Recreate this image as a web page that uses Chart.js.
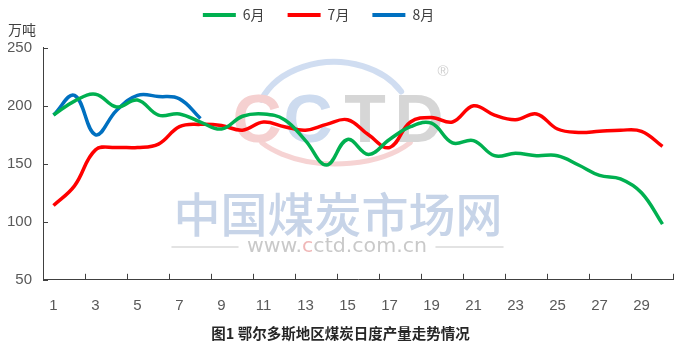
<!DOCTYPE html>
<html lang="zh">
<head>
    <meta charset="UTF-8">
    <title>鄂尔多斯地区煤炭日度产量走势情况</title>
    <script src="https://cdn.jsdelivr.net/npm/chart.js"></script>
    <style>
        html, body { margin: 0; padding: 0; background: #fff; }
        #chart-box { width: 681px; height: 351px; position: relative; }
    </style>
</head>
<body>
    <div id="chart-box">
        <canvas id="myChart"></canvas>
    </div>

    <script>
        // days of the month
        var days = ['1', '2', '3', '4', '5', '6', '7', '8', '9', '10',
                    '11', '12', '13', '14', '15', '16', '17', '18', '19', '20',
                    '21', '22', '23', '24', '25', '26', '27', '28', '29', '30'];

        // 万吨 per day
        var june = [192, 204, 210, 199, 205, 192, 193, 186, 180, 191,
                    193, 188, 170, 149, 171, 158, 171, 182, 185, 168,
                    170, 157, 159, 157, 157, 149, 140, 137, 125, 98];
        var july = [114, 131, 162, 164, 164, 167, 182, 184, 183, 179,
                    186, 182, 179, 184, 188, 175, 164, 186, 190, 186,
                    200, 192, 188, 193, 180, 177, 178, 179, 178, 165];
        var august = [192, 209, 175, 196, 209, 208, 206, 189];

        var yTicks = [50, 100, 150, 200, 250];

        var tickFont = { family: '"Liberation Sans", Arial, sans-serif', size: 15 };
        var cjkFont = '"Noto Sans CJK SC", "Liberation Sans", sans-serif';

        // faint CCTD watermark behind the lines
        var watermark = {
            id: 'watermark',
            beforeDatasetsDraw: function (chart) {
                var ctx = chart.ctx;
                ctx.save();

                // arcs of the logo
                ctx.lineCap = 'round';
                ctx.strokeStyle = 'rgba(196, 213, 238, 0.8)';
                ctx.lineWidth = 6;
                ctx.beginPath();
                ctx.ellipse(334, 122, 78, 60, 0, Math.PI * 1.12, Math.PI * 1.83);
                ctx.stroke();
                ctx.strokeStyle = 'rgba(244, 200, 200, 0.8)';
                ctx.lineWidth = 5;
                ctx.beginPath();
                ctx.ellipse(336, 112, 92, 52, 0, Math.PI * 0.2, Math.PI * 0.8);
                ctx.stroke();

                // letters
                ctx.font = 'bold 68px "Liberation Sans", Arial, sans-serif';
                ctx.textAlign = 'center';
                ctx.textBaseline = 'alphabetic';
                var letters = [['C', 257, '#f5d0d0'], ['C', 308, '#cddbef'],
                               ['T', 365, '#d6d6d6'], ['D', 419, '#d6d6d6']];
                letters.forEach(function (l) {
                    ctx.fillStyle = l[2];
                    ctx.fillText(l[0], l[1], 142);
                });
                ctx.font = '15px "Liberation Sans", Arial, sans-serif';
                ctx.fillStyle = '#cfcfcf';
                ctx.fillText('®', 443, 76);

                // site name
                ctx.font = '500 47px ' + cjkFont;
                ctx.fillStyle = '#c7d4e8';
                ctx.textBaseline = 'middle';
                ctx.fillText('中国煤炭市场网', 338, 214);

                // url with rules
                ctx.strokeStyle = '#dadada';
                ctx.lineWidth = 1.5;
                ctx.beginPath();
                ctx.moveTo(172, 247); ctx.lineTo(238, 247);
                ctx.moveTo(436, 247); ctx.lineTo(503, 247);
                ctx.stroke();

                ctx.font = '19px "DejaVu Sans", sans-serif';
                ctx.textAlign = 'left';
                var parts = [['www.', '#c9c9c9'], ['c', '#f0b8b8'], ['ctd.com.cn', '#c9c9c9']];
                var total = 0;
                parts.forEach(function (p) { total += ctx.measureText(p[0]).width; });
                var sx = 180 / total;
                ctx.translate(247, 247);
                ctx.scale(sx, 1);
                var cx = 0;
                parts.forEach(function (p) {
                    ctx.fillStyle = p[1];
                    ctx.fillText(p[0], cx, 0);
                    cx += ctx.measureText(p[0]).width;
                });
                ctx.restore();
            }
        };

        // the source legend sits a little left of centre
        var legendShift = {
            id: 'legendShift',
            afterLayout: function (chart) {
                chart.legend.left -= 22;
                chart.legend.right -= 22;
            }
        };

        // short tick marks pointing into the plot, as in the source chart
        var innerTicks = {
            id: 'innerTicks',
            afterDatasetsDraw: function (chart) {
                var ctx = chart.ctx;
                var xs = chart.scales.x;
                var ys = chart.scales.y;
                var area = chart.chartArea;
                var half = (xs.getPixelForValue(1) - xs.getPixelForValue(0)) / 2;
                ctx.save();
                ctx.strokeStyle = '#404040';
                ctx.lineWidth = 1;
                ctx.beginPath();
                for (var k = 2; k <= days.length; k += 2) {
                    var px = Math.round(xs.getPixelForValue(k) - half) + 0.5;
                    ctx.moveTo(px, area.bottom);
                    ctx.lineTo(px, area.bottom - 6);
                }
                yTicks.forEach(function (v) {
                    var py = Math.round(ys.getPixelForValue(v)) + 0.5;
                    ctx.moveTo(area.left, py);
                    ctx.lineTo(area.left + 5, py);
                });
                ctx.stroke();
                ctx.restore();
            }
        };

        var ctx = document.getElementById('myChart').getContext('2d');

        var myChart = new Chart(ctx, {
            type: 'line',
            data: {
                labels: days,
                datasets: [{
                    label: '6月',
                    data: june,
                    borderColor: '#00b050',
                    backgroundColor: '#00b050'
                }, {
                    label: '7月',
                    data: july,
                    borderColor: '#ff0000',
                    backgroundColor: '#ff0000'
                }, {
                    label: '8月',
                    data: august,
                    borderColor: '#0070c0',
                    backgroundColor: '#0070c0'
                }]
            },
            options: {
                responsive: true,
                maintainAspectRatio: false,
                animation: false,
                elements: {
                    line: { borderWidth: 3.5, tension: 0.4, fill: false },
                    point: { radius: 0, hoverRadius: 0 }
                },
                layout: {
                    padding: { top: -15, left: 8, right: 8, bottom: 0 }
                },
                plugins: {
                    tooltip: { enabled: false },
                    legend: {
                        position: 'top',
                        labels: {
                            boxWidth: 33,
                            boxHeight: 4,
                            padding: 23,
                            color: '#404040',
                            font: { family: cjkFont, size: 14 },
                            generateLabels: function (chart) {
                                var items = Chart.defaults.plugins.legend.labels.generateLabels(chart);
                                items.forEach(function (it) {
                                    it.fillStyle = it.strokeStyle;
                                    it.lineWidth = 0;
                                });
                                return items;
                            }
                        }
                    },
                    subtitle: {
                        display: true,
                        text: '万吨',
                        align: 'start',
                        weight: 500,
                        color: '#404040',
                        font: { family: cjkFont, size: 14 },
                        padding: { top: -11, bottom: 10 }
                    },
                    title: {
                        display: true,
                        position: 'bottom',
                        text: '图1 鄂尔多斯地区煤炭日度产量走势情况',
                        color: '#262626',
                        font: { family: cjkFont, size: 14.5, weight: 'bold' },
                        padding: { top: 5.4, bottom: 8.4 }
                    }
                },
                scales: {
                    x: {
                        offset: true,
                        grid: { display: false },
                        border: { display: true, color: '#404040', width: 1 },
                        ticks: {
                            autoSkip: false,
                            maxRotation: 0,
                            padding: 9,
                            color: '#595959',
                            font: tickFont,
                            callback: function (value, index) {
                                return index % 2 === 0 ? this.getLabelForValue(value) : '';
                            }
                        },
                        afterFit: function (scale) { scale.height = 40; }
                    },
                    y: {
                        min: 50,
                        max: 250,
                        grid: { display: false },
                        border: { display: true, color: '#404040', width: 1 },
                        ticks: {
                            stepSize: 50,
                            padding: 3,
                            color: '#595959',
                            font: tickFont
                        },
                        afterFit: function (scale) { scale.width = 35; }
                    }
                }
            },
            plugins: [watermark, legendShift, innerTicks]
        });
    </script>
</body>
</html>
